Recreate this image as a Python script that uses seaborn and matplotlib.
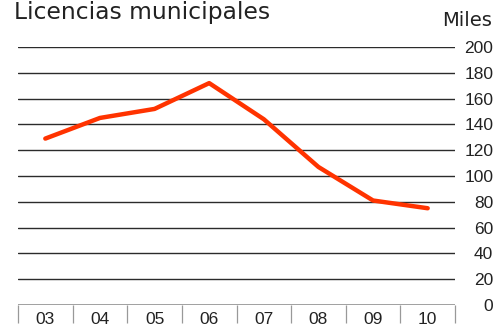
import matplotlib
matplotlib.use("Agg")
import matplotlib.pyplot as plt
import seaborn as sns
import pandas as pd

# Municipal building licences, thousands
years = ["03", "04", "05", "06", "07", "08", "09", "10"]
licencias = [129, 145, 152, 172, 144, 107, 81, 75]
yticks = [0, 20, 40, 60, 80, 100, 120, 140, 160, 180, 200]

sns.set_theme(style="white")
plt.rcParams["font.family"] = ["Liberation Sans", "DejaVu Sans"]

df = pd.DataFrame({"pos": range(len(years)), "valor": licencias})

fig = plt.figure(figsize=(4.96, 3.28), dpi=100)
ax = fig.add_axes([18 / 496, 1 - 305 / 328, (455 - 18) / 496, (305 - 47) / 328])

for v in yticks[1:]:
    ax.axhline(v, color="#2b2b2b", lw=1.0, zorder=1)
ax.axhline(0, color="#999999", lw=1.3, zorder=1)

sns.lineplot(data=df, x="pos", y="valor", color="#ff3300", lw=3.2, ax=ax, zorder=3)

ax.set_xlim(-0.5, len(years) - 0.5)
ax.set_ylim(0, 200)
ax.set_xlabel("")
ax.set_ylabel("")
for s in ax.spines.values():
    s.set_visible(False)

ax.yaxis.tick_right()
ax.set_yticks(yticks)
ax.set_yticklabels([str(v) for v in yticks], fontsize=12.5, color="#222222", ha="right")
ax.tick_params(axis="y", length=0, pad=27.5)

# category labels centred in each slot, separators between slots
ax.set_xticks(range(len(years)))
ax.set_xticklabels(years, fontsize=12.5, color="#222222")
ax.set_xticks([i - 0.5 for i in range(len(years) + 1)], minor=True)
ax.tick_params(axis="x", which="major", bottom=True, length=0, pad=5)
ax.tick_params(axis="x", which="minor", bottom=True, length=13, width=0.9,
               color="#999999", direction="out")

fig.text(14 / 496, 1 - 1 / 328, "Licencias municipales", fontsize=16.8, color="#222222",
         ha="left", va="top", family="DejaVu Sans")
fig.text(492 / 496, 1 - 11 / 328, "Miles", fontsize=14, color="#222222",
         ha="right", va="top", family="DejaVu Sans")

fig.savefig("out.png", dpi=100)
